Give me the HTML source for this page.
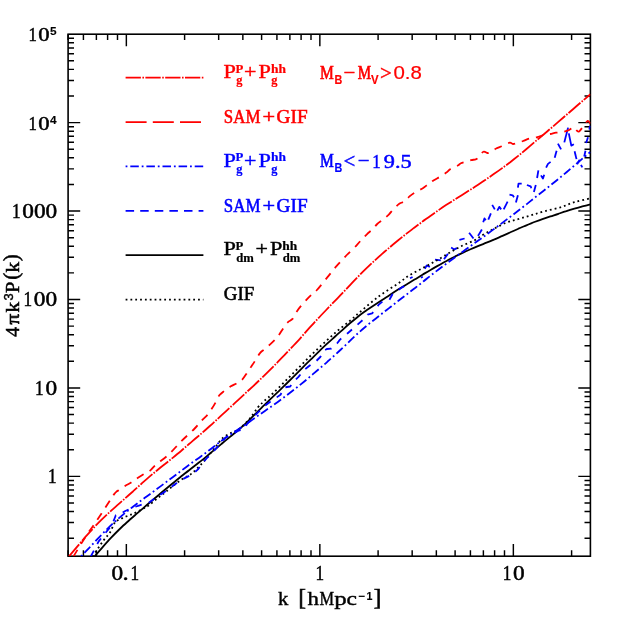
<!DOCTYPE html>
<html><head><meta charset="utf-8"><title>Power spectrum</title>
<style>html,body{margin:0;padding:0;background:#fff}svg{display:block;will-change:transform;transform:translateZ(0)}</style></head>
<body><svg width="623" height="623" viewBox="0 0 623 623">
<rect width="623" height="623" fill="#fff"/>
<rect x="68.1" y="34.2" width="522.3" height="522.0" fill="none" stroke="#000" stroke-width="1.6"/>
<path d="M68.10,556.2 v-5.9 M68.10,34.2 v5.9 M83.42,556.2 v-5.9 M83.42,34.2 v5.9 M96.38,556.2 v-5.9 M96.38,34.2 v5.9 M107.60,556.2 v-5.9 M107.60,34.2 v5.9 M117.50,556.2 v-5.9 M117.50,34.2 v5.9 M126.35,556.2 v-12.1 M126.35,34.2 v12.1 M184.60,556.2 v-5.9 M184.60,34.2 v5.9 M218.67,556.2 v-5.9 M218.67,34.2 v5.9 M242.85,556.2 v-5.9 M242.85,34.2 v5.9 M261.60,556.2 v-5.9 M261.60,34.2 v5.9 M276.92,556.2 v-5.9 M276.92,34.2 v5.9 M289.88,556.2 v-5.9 M289.88,34.2 v5.9 M301.10,556.2 v-5.9 M301.10,34.2 v5.9 M311.00,556.2 v-5.9 M311.00,34.2 v5.9 M319.85,556.2 v-12.1 M319.85,34.2 v12.1 M378.10,556.2 v-5.9 M378.10,34.2 v5.9 M412.17,556.2 v-5.9 M412.17,34.2 v5.9 M436.35,556.2 v-5.9 M436.35,34.2 v5.9 M455.10,556.2 v-5.9 M455.10,34.2 v5.9 M470.42,556.2 v-5.9 M470.42,34.2 v5.9 M483.38,556.2 v-5.9 M483.38,34.2 v5.9 M494.60,556.2 v-5.9 M494.60,34.2 v5.9 M504.50,556.2 v-5.9 M504.50,34.2 v5.9 M513.35,556.2 v-12.1 M513.35,34.2 v12.1 M571.60,556.2 v-5.9 M571.60,34.2 v5.9 M68.1,538.16 h5.9 M590.4,538.16 h-5.9 M68.1,522.59 h5.9 M590.4,522.59 h-5.9 M68.1,511.54 h5.9 M590.4,511.54 h-5.9 M68.1,502.97 h5.9 M590.4,502.97 h-5.9 M68.1,495.97 h5.9 M590.4,495.97 h-5.9 M68.1,490.05 h5.9 M590.4,490.05 h-5.9 M68.1,484.92 h5.9 M590.4,484.92 h-5.9 M68.1,480.40 h5.9 M590.4,480.40 h-5.9 M68.1,476.35 h12.1 M590.4,476.35 h-12.1 M68.1,449.73 h5.9 M590.4,449.73 h-5.9 M68.1,434.16 h5.9 M590.4,434.16 h-5.9 M68.1,423.11 h5.9 M590.4,423.11 h-5.9 M68.1,414.54 h5.9 M590.4,414.54 h-5.9 M68.1,407.54 h5.9 M590.4,407.54 h-5.9 M68.1,401.62 h5.9 M590.4,401.62 h-5.9 M68.1,396.49 h5.9 M590.4,396.49 h-5.9 M68.1,391.97 h5.9 M590.4,391.97 h-5.9 M68.1,387.92 h12.1 M590.4,387.92 h-12.1 M68.1,361.30 h5.9 M590.4,361.30 h-5.9 M68.1,345.73 h5.9 M590.4,345.73 h-5.9 M68.1,334.68 h5.9 M590.4,334.68 h-5.9 M68.1,326.11 h5.9 M590.4,326.11 h-5.9 M68.1,319.11 h5.9 M590.4,319.11 h-5.9 M68.1,313.19 h5.9 M590.4,313.19 h-5.9 M68.1,308.06 h5.9 M590.4,308.06 h-5.9 M68.1,303.54 h5.9 M590.4,303.54 h-5.9 M68.1,299.49 h12.1 M590.4,299.49 h-12.1 M68.1,272.87 h5.9 M590.4,272.87 h-5.9 M68.1,257.30 h5.9 M590.4,257.30 h-5.9 M68.1,246.25 h5.9 M590.4,246.25 h-5.9 M68.1,237.68 h5.9 M590.4,237.68 h-5.9 M68.1,230.68 h5.9 M590.4,230.68 h-5.9 M68.1,224.76 h5.9 M590.4,224.76 h-5.9 M68.1,219.63 h5.9 M590.4,219.63 h-5.9 M68.1,215.11 h5.9 M590.4,215.11 h-5.9 M68.1,211.06 h12.1 M590.4,211.06 h-12.1 M68.1,184.44 h5.9 M590.4,184.44 h-5.9 M68.1,168.87 h5.9 M590.4,168.87 h-5.9 M68.1,157.82 h5.9 M590.4,157.82 h-5.9 M68.1,149.25 h5.9 M590.4,149.25 h-5.9 M68.1,142.25 h5.9 M590.4,142.25 h-5.9 M68.1,136.33 h5.9 M590.4,136.33 h-5.9 M68.1,131.20 h5.9 M590.4,131.20 h-5.9 M68.1,126.68 h5.9 M590.4,126.68 h-5.9 M68.1,122.63 h12.1 M590.4,122.63 h-12.1 M68.1,96.01 h5.9 M590.4,96.01 h-5.9 M68.1,80.44 h5.9 M590.4,80.44 h-5.9 M68.1,69.39 h5.9 M590.4,69.39 h-5.9 M68.1,60.82 h5.9 M590.4,60.82 h-5.9 M68.1,53.82 h5.9 M590.4,53.82 h-5.9 M68.1,47.90 h5.9 M590.4,47.90 h-5.9 M68.1,42.77 h5.9 M590.4,42.77 h-5.9 M68.1,38.25 h5.9 M590.4,38.25 h-5.9" stroke="#000" stroke-width="1.45" fill="none"/>
<text x="12.0" y="217.96" font-size="20.3" text-anchor="start" fill="#000" stroke="#000" stroke-width="0.5" style="font-family:'Liberation Serif',serif;font-weight:normal" textLength="8.6" lengthAdjust="spacingAndGlyphs">1</text><text x="22.3" y="217.96" font-size="20.3" text-anchor="start" fill="#000" stroke="#000" stroke-width="0.5" style="font-family:'Liberation Serif',serif;font-weight:normal" textLength="34.95" lengthAdjust="spacingAndGlyphs">000</text>
<text x="23.55" y="306.39" font-size="20.3" text-anchor="start" fill="#000" stroke="#000" stroke-width="0.5" style="font-family:'Liberation Serif',serif;font-weight:normal" textLength="8.6" lengthAdjust="spacingAndGlyphs">1</text><text x="33.85" y="306.39" font-size="20.3" text-anchor="start" fill="#000" stroke="#000" stroke-width="0.5" style="font-family:'Liberation Serif',serif;font-weight:normal" textLength="23.3" lengthAdjust="spacingAndGlyphs">00</text>
<text x="35.1" y="394.82" font-size="20.3" text-anchor="start" fill="#000" stroke="#000" stroke-width="0.5" style="font-family:'Liberation Serif',serif;font-weight:normal" textLength="8.6" lengthAdjust="spacingAndGlyphs">1</text><text x="45.4" y="394.82" font-size="20.3" text-anchor="start" fill="#000" stroke="#000" stroke-width="0.5" style="font-family:'Liberation Serif',serif;font-weight:normal" textLength="11.65" lengthAdjust="spacingAndGlyphs">0</text>
<text x="47.9" y="483.25" font-size="20.3" text-anchor="start" fill="#000" stroke="#000" stroke-width="0.5" style="font-family:'Liberation Serif',serif;font-weight:normal" textLength="8.6" lengthAdjust="spacingAndGlyphs">1</text>
<text x="28.5" y="41.1" font-size="19.7" text-anchor="start" fill="#000" stroke="#000" stroke-width="0.5" style="font-family:'Liberation Serif',serif;font-weight:normal" textLength="8.35" lengthAdjust="spacingAndGlyphs">1</text><text x="38.2" y="41.1" font-size="19.7" text-anchor="start" fill="#000" stroke="#000" stroke-width="0.5" style="font-family:'Liberation Serif',serif;font-weight:normal" textLength="11.31" lengthAdjust="spacingAndGlyphs">0</text>
<text x="50.0" y="35.400000000000006" font-size="10.8" text-anchor="start" fill="#000" stroke="#000" stroke-width="0.1" style="font-family:'Liberation Sans',sans-serif;font-weight:bold" textLength="6.6" lengthAdjust="spacingAndGlyphs">5</text>
<text x="28.5" y="129.53" font-size="19.7" text-anchor="start" fill="#000" stroke="#000" stroke-width="0.5" style="font-family:'Liberation Serif',serif;font-weight:normal" textLength="8.35" lengthAdjust="spacingAndGlyphs">1</text><text x="38.2" y="129.53" font-size="19.7" text-anchor="start" fill="#000" stroke="#000" stroke-width="0.5" style="font-family:'Liberation Serif',serif;font-weight:normal" textLength="11.31" lengthAdjust="spacingAndGlyphs">0</text>
<text x="50.0" y="123.83000000000001" font-size="10.8" text-anchor="start" fill="#000" stroke="#000" stroke-width="0.1" style="font-family:'Liberation Sans',sans-serif;font-weight:bold" textLength="6.6" lengthAdjust="spacingAndGlyphs">4</text>
<text x="111.5" y="579.9" font-size="20.3" text-anchor="start" fill="#000" stroke="#000" stroke-width="0.5" style="font-family:'Liberation Serif',serif;font-weight:normal" textLength="11.65" lengthAdjust="spacingAndGlyphs">0</text><text x="122.4" y="579.9" font-size="20.3" text-anchor="start" fill="#000" stroke="#000" stroke-width="0.5" style="font-family:'Liberation Serif',serif;font-weight:normal" textLength="6.2" lengthAdjust="spacingAndGlyphs">.</text><text x="130.6" y="579.9" font-size="20.3" text-anchor="start" fill="#000" stroke="#000" stroke-width="0.5" style="font-family:'Liberation Serif',serif;font-weight:normal" textLength="8.6" lengthAdjust="spacingAndGlyphs">1</text>
<text x="315.40000000000003" y="579.9" font-size="20.3" text-anchor="start" fill="#000" stroke="#000" stroke-width="0.5" style="font-family:'Liberation Serif',serif;font-weight:normal" textLength="8.6" lengthAdjust="spacingAndGlyphs">1</text>
<text x="502.8" y="579.9" font-size="20.3" text-anchor="start" fill="#000" stroke="#000" stroke-width="0.5" style="font-family:'Liberation Serif',serif;font-weight:normal" textLength="8.6" lengthAdjust="spacingAndGlyphs">1</text><text x="513.1" y="579.9" font-size="20.3" text-anchor="start" fill="#000" stroke="#000" stroke-width="0.5" style="font-family:'Liberation Serif',serif;font-weight:normal" textLength="11.65" lengthAdjust="spacingAndGlyphs">0</text>
<text x="278" y="604.9" font-size="19" text-anchor="start" fill="#000" stroke="#000" stroke-width="0.4" style="font-family:'Liberation Serif',serif;font-weight:normal" textLength="10.4" lengthAdjust="spacingAndGlyphs">k</text>
<text x="298.4" y="605.0" font-size="22.5" text-anchor="start" fill="#000" stroke="#000" stroke-width="0.7" style="font-family:'Liberation Serif',serif;font-weight:normal" textLength="7.4" lengthAdjust="spacingAndGlyphs">[</text>
<text x="307.4" y="604.9" font-size="19" text-anchor="start" fill="#000" stroke="#000" stroke-width="0.4" style="font-family:'Liberation Serif',serif;font-weight:normal" textLength="11.4" lengthAdjust="spacingAndGlyphs">h</text><text x="319.5" y="604.9" font-size="19" text-anchor="start" fill="#000" stroke="#000" stroke-width="0.4" style="font-family:'Liberation Serif',serif;font-weight:normal" textLength="14.6" lengthAdjust="spacingAndGlyphs">M</text><text x="334.2" y="604.9" font-size="19" text-anchor="start" fill="#000" stroke="#000" stroke-width="0.4" style="font-family:'Liberation Serif',serif;font-weight:normal" textLength="12.4" lengthAdjust="spacingAndGlyphs">p</text><text x="346.6" y="604.9" font-size="19" text-anchor="start" fill="#000" stroke="#000" stroke-width="0.4" style="font-family:'Liberation Serif',serif;font-weight:normal" textLength="10.4" lengthAdjust="spacingAndGlyphs">c</text>
<text x="358.4" y="599.6" font-size="11.5" text-anchor="start" fill="#000" stroke="#000" stroke-width="0.1" style="font-family:'Liberation Sans',sans-serif;font-weight:bold" textLength="6.8" lengthAdjust="spacingAndGlyphs">−</text>
<text x="366.6" y="599.8" font-size="10.6" text-anchor="start" fill="#000" stroke="#000" stroke-width="0.1" style="font-family:'Liberation Sans',sans-serif;font-weight:bold" textLength="6" lengthAdjust="spacingAndGlyphs">1</text>
<text x="373.8" y="605.0" font-size="22.5" text-anchor="start" fill="#000" stroke="#000" stroke-width="0.7" style="font-family:'Liberation Serif',serif;font-weight:normal" textLength="7.4" lengthAdjust="spacingAndGlyphs">]</text>
<g transform="translate(18.9,337) rotate(-90)"><text x="0" y="0" font-size="19" text-anchor="start" fill="#000" stroke="#000" stroke-width="0.5" style="font-family:'Liberation Serif',serif;font-weight:normal" textLength="10" lengthAdjust="spacingAndGlyphs">4</text><text x="12.4" y="0" font-size="19" text-anchor="start" fill="#000" stroke="#000" stroke-width="0.7" style="font-family:'Liberation Serif',serif;font-weight:normal" textLength="10.6" lengthAdjust="spacingAndGlyphs">π</text><text x="24.4" y="0" font-size="19" text-anchor="start" fill="#000" stroke="#000" stroke-width="0.5" style="font-family:'Liberation Serif',serif;font-weight:normal" textLength="10.6" lengthAdjust="spacingAndGlyphs">k</text><text x="36.4" y="-6.1" font-size="12.3" text-anchor="start" fill="#000" stroke="#000" stroke-width="0.45" style="font-family:'Liberation Sans',sans-serif;font-weight:normal" textLength="7.2" lengthAdjust="spacingAndGlyphs">3</text><text x="44.0" y="0" font-size="19.5" text-anchor="start" fill="#000" stroke="#000" stroke-width="0.5" style="font-family:'Liberation Serif',serif;font-weight:normal" textLength="11.4" lengthAdjust="spacingAndGlyphs">P</text><text x="57.4" y="-0.6" font-size="22" text-anchor="start" fill="#000" stroke="#000" stroke-width="0.6" style="font-family:'Liberation Serif',serif;font-weight:normal" textLength="6.6" lengthAdjust="spacingAndGlyphs">(</text><text x="64.6" y="0" font-size="19" text-anchor="start" fill="#000" stroke="#000" stroke-width="0.5" style="font-family:'Liberation Serif',serif;font-weight:normal" textLength="10.6" lengthAdjust="spacingAndGlyphs">k</text><text x="76.0" y="-0.6" font-size="22" text-anchor="start" fill="#000" stroke="#000" stroke-width="0.6" style="font-family:'Liberation Serif',serif;font-weight:normal" textLength="6.6" lengthAdjust="spacingAndGlyphs">)</text></g>
<path d="M125.6,77.7 H203.4" stroke="#ff0000" stroke-width="1.8" stroke-dasharray="15.3 1.5 1.6 1.4" fill="none"/>
<path d="M125.6,122.1 H203.4" stroke="#ff0000" stroke-width="1.8" stroke-dasharray="21 6.2" fill="none"/>
<path d="M125.6,166.4 H203.4" stroke="#0000ff" stroke-width="1.8" stroke-dasharray="1.8 2.9 8.5 2.9" fill="none"/>
<path d="M125.6,210.8 H203.4" stroke="#0000ff" stroke-width="1.8" stroke-dasharray="8.5 6.1" fill="none"/>
<path d="M125.6,255.2 H203.4" stroke="#000" stroke-width="1.8" fill="none"/>
<path d="M125.6,299.6 H203.4" stroke="#000" stroke-width="1.8" stroke-dasharray="1.8 3.03" fill="none"/>
<text x="223.4" y="78.3" font-size="19" text-anchor="start" fill="#ff0000" stroke="#ff0000" stroke-width="0.4" style="font-family:'Liberation Serif',serif;font-weight:normal" textLength="12.4" lengthAdjust="spacingAndGlyphs">P</text><text x="235.6" y="72.7" font-size="12.2" text-anchor="start" fill="#ff0000" stroke="#ff0000" stroke-width="0.2" style="font-family:'Liberation Serif',serif;font-weight:bold" textLength="7.8" lengthAdjust="spacingAndGlyphs">P</text><text x="236.3" y="84.0" font-size="12" text-anchor="start" fill="#ff0000" stroke="#ff0000" stroke-width="0.2" style="font-family:'Liberation Serif',serif;font-weight:bold" textLength="6.2" lengthAdjust="spacingAndGlyphs">g</text><text x="244.1" y="78.3" font-size="19" text-anchor="start" fill="#ff0000" stroke="#ff0000" stroke-width="0.4" style="font-family:'Liberation Serif',serif;font-weight:normal" textLength="12.4" lengthAdjust="spacingAndGlyphs">+</text><text x="258.5" y="78.3" font-size="19" text-anchor="start" fill="#ff0000" stroke="#ff0000" stroke-width="0.4" style="font-family:'Liberation Serif',serif;font-weight:normal" textLength="12.4" lengthAdjust="spacingAndGlyphs">P</text><text x="270.9" y="72.7" font-size="12" text-anchor="start" fill="#ff0000" stroke="#ff0000" stroke-width="0.2" style="font-family:'Liberation Serif',serif;font-weight:bold" textLength="15" lengthAdjust="spacingAndGlyphs">hh</text><text x="271.3" y="84.0" font-size="12" text-anchor="start" fill="#ff0000" stroke="#ff0000" stroke-width="0.2" style="font-family:'Liberation Serif',serif;font-weight:bold" textLength="6.2" lengthAdjust="spacingAndGlyphs">g</text>
<text x="223.8" y="122.9" font-size="19" text-anchor="start" fill="#ff0000" stroke="#ff0000" stroke-width="0.55" style="font-family:'Liberation Serif',serif;font-weight:normal" textLength="36.6" lengthAdjust="spacingAndGlyphs">SAM</text><text x="262.6" y="122.9" font-size="19" text-anchor="start" fill="#ff0000" stroke="#ff0000" stroke-width="0.5" style="font-family:'Liberation Serif',serif;font-weight:normal" textLength="12.6" lengthAdjust="spacingAndGlyphs">+</text><text x="276.6" y="122.9" font-size="19" text-anchor="start" fill="#ff0000" stroke="#ff0000" stroke-width="0.55" style="font-family:'Liberation Serif',serif;font-weight:normal" textLength="31" lengthAdjust="spacingAndGlyphs">GIF</text>
<text x="223.4" y="166.89999999999998" font-size="19" text-anchor="start" fill="#0000ff" stroke="#0000ff" stroke-width="0.4" style="font-family:'Liberation Serif',serif;font-weight:normal" textLength="12.4" lengthAdjust="spacingAndGlyphs">P</text><text x="235.6" y="161.29999999999998" font-size="12.2" text-anchor="start" fill="#0000ff" stroke="#0000ff" stroke-width="0.2" style="font-family:'Liberation Serif',serif;font-weight:bold" textLength="7.8" lengthAdjust="spacingAndGlyphs">P</text><text x="236.3" y="172.59999999999997" font-size="12" text-anchor="start" fill="#0000ff" stroke="#0000ff" stroke-width="0.2" style="font-family:'Liberation Serif',serif;font-weight:bold" textLength="6.2" lengthAdjust="spacingAndGlyphs">g</text><text x="244.1" y="166.89999999999998" font-size="19" text-anchor="start" fill="#0000ff" stroke="#0000ff" stroke-width="0.4" style="font-family:'Liberation Serif',serif;font-weight:normal" textLength="12.4" lengthAdjust="spacingAndGlyphs">+</text><text x="258.5" y="166.89999999999998" font-size="19" text-anchor="start" fill="#0000ff" stroke="#0000ff" stroke-width="0.4" style="font-family:'Liberation Serif',serif;font-weight:normal" textLength="12.4" lengthAdjust="spacingAndGlyphs">P</text><text x="270.9" y="161.29999999999998" font-size="12" text-anchor="start" fill="#0000ff" stroke="#0000ff" stroke-width="0.2" style="font-family:'Liberation Serif',serif;font-weight:bold" textLength="15" lengthAdjust="spacingAndGlyphs">hh</text><text x="271.3" y="172.59999999999997" font-size="12" text-anchor="start" fill="#0000ff" stroke="#0000ff" stroke-width="0.2" style="font-family:'Liberation Serif',serif;font-weight:bold" textLength="6.2" lengthAdjust="spacingAndGlyphs">g</text>
<text x="223.8" y="211.5" font-size="19" text-anchor="start" fill="#0000ff" stroke="#0000ff" stroke-width="0.55" style="font-family:'Liberation Serif',serif;font-weight:normal" textLength="36.6" lengthAdjust="spacingAndGlyphs">SAM</text><text x="262.6" y="211.5" font-size="19" text-anchor="start" fill="#0000ff" stroke="#0000ff" stroke-width="0.5" style="font-family:'Liberation Serif',serif;font-weight:normal" textLength="12.6" lengthAdjust="spacingAndGlyphs">+</text><text x="276.6" y="211.5" font-size="19" text-anchor="start" fill="#0000ff" stroke="#0000ff" stroke-width="0.55" style="font-family:'Liberation Serif',serif;font-weight:normal" textLength="31" lengthAdjust="spacingAndGlyphs">GIF</text>
<text x="223.4" y="255.3" font-size="19" text-anchor="start" fill="#000" stroke="#000" stroke-width="0.4" style="font-family:'Liberation Serif',serif;font-weight:normal" textLength="12.4" lengthAdjust="spacingAndGlyphs">P</text><text x="235.6" y="249.70000000000002" font-size="12.2" text-anchor="start" fill="#000" stroke="#000" stroke-width="0.2" style="font-family:'Liberation Serif',serif;font-weight:bold" textLength="7.8" lengthAdjust="spacingAndGlyphs">P</text><text x="236.3" y="261.90000000000003" font-size="12" text-anchor="start" fill="#000" stroke="#000" stroke-width="0.2" style="font-family:'Liberation Serif',serif;font-weight:bold" textLength="17.6" lengthAdjust="spacingAndGlyphs">dm</text><text x="255.5" y="255.3" font-size="19" text-anchor="start" fill="#000" stroke="#000" stroke-width="0.4" style="font-family:'Liberation Serif',serif;font-weight:normal" textLength="12.4" lengthAdjust="spacingAndGlyphs">+</text><text x="269.9" y="255.3" font-size="19" text-anchor="start" fill="#000" stroke="#000" stroke-width="0.4" style="font-family:'Liberation Serif',serif;font-weight:normal" textLength="12.4" lengthAdjust="spacingAndGlyphs">P</text><text x="282.29999999999995" y="249.70000000000002" font-size="12" text-anchor="start" fill="#000" stroke="#000" stroke-width="0.2" style="font-family:'Liberation Serif',serif;font-weight:bold" textLength="15" lengthAdjust="spacingAndGlyphs">hh</text><text x="282.7" y="261.90000000000003" font-size="12" text-anchor="start" fill="#000" stroke="#000" stroke-width="0.2" style="font-family:'Liberation Serif',serif;font-weight:bold" textLength="17.6" lengthAdjust="spacingAndGlyphs">dm</text>
<text x="223.8" y="299.8" font-size="19" text-anchor="start" fill="#000" stroke="#000" stroke-width="0.55" style="font-family:'Liberation Serif',serif;font-weight:normal" textLength="30.6" lengthAdjust="spacingAndGlyphs">GIF</text>
<text x="320" y="78.7" font-size="19.5" text-anchor="start" fill="#ff0000" stroke="#ff0000" stroke-width="0.7" style="font-family:'Liberation Serif',serif;font-weight:normal" textLength="13.8" lengthAdjust="spacingAndGlyphs">M</text><text x="334.6" y="83.9" font-size="12" text-anchor="start" fill="#ff0000" stroke="#ff0000" stroke-width="0.15" style="font-family:'Liberation Sans',sans-serif;font-weight:bold" textLength="7.8" lengthAdjust="spacingAndGlyphs">B</text>
<text x="343.5" y="78.7" font-size="19" text-anchor="start" fill="#ff0000" stroke="#ff0000" stroke-width="0.4" style="font-family:'Liberation Serif',serif;font-weight:normal" textLength="11.8" lengthAdjust="spacingAndGlyphs">−</text>
<text x="357.8" y="78.7" font-size="19.5" text-anchor="start" fill="#ff0000" stroke="#ff0000" stroke-width="0.7" style="font-family:'Liberation Serif',serif;font-weight:normal" textLength="13.4" lengthAdjust="spacingAndGlyphs">M</text>
<text x="371.0" y="84" font-size="12" text-anchor="start" fill="#ff0000" stroke="#ff0000" stroke-width="0.15" style="font-family:'Liberation Sans',sans-serif;font-weight:bold" textLength="7.6" lengthAdjust="spacingAndGlyphs">V</text>
<text x="380.0" y="80.0" font-size="22" text-anchor="start" fill="#ff0000" stroke="#ff0000" stroke-width="0.4" style="font-family:'Liberation Serif',serif;font-weight:normal" textLength="11.8" lengthAdjust="spacingAndGlyphs">&gt;</text>
<text x="393.4" y="78.8" font-size="18.4" text-anchor="start" fill="#ff0000" stroke="#ff0000" stroke-width="0.2" style="font-family:'Liberation Sans',sans-serif;font-weight:normal" textLength="28.4" lengthAdjust="spacingAndGlyphs">0.8</text>
<text x="320" y="167.1" font-size="19.5" text-anchor="start" fill="#0000ff" stroke="#0000ff" stroke-width="0.7" style="font-family:'Liberation Serif',serif;font-weight:normal" textLength="13.8" lengthAdjust="spacingAndGlyphs">M</text><text x="334.6" y="172.29999999999998" font-size="12" text-anchor="start" fill="#0000ff" stroke="#0000ff" stroke-width="0.15" style="font-family:'Liberation Sans',sans-serif;font-weight:bold" textLength="7.8" lengthAdjust="spacingAndGlyphs">B</text>
<text x="343.4" y="168.4" font-size="22" text-anchor="start" fill="#0000ff" stroke="#0000ff" stroke-width="0.4" style="font-family:'Liberation Serif',serif;font-weight:normal" textLength="11.8" lengthAdjust="spacingAndGlyphs">&lt;</text>
<text x="357.8" y="167.1" font-size="19" text-anchor="start" fill="#0000ff" stroke="#0000ff" stroke-width="0.4" style="font-family:'Liberation Serif',serif;font-weight:normal" textLength="11.8" lengthAdjust="spacingAndGlyphs">−</text>
<text x="372.2" y="167.5" font-size="19.3" text-anchor="start" fill="#0000ff" stroke="#0000ff" stroke-width="0.5" style="font-family:'Liberation Serif',serif;font-weight:normal" textLength="8.4" lengthAdjust="spacingAndGlyphs">1</text><text x="383.8" y="167.5" font-size="19.3" text-anchor="start" fill="#0000ff" stroke="#0000ff" stroke-width="0.5" style="font-family:'Liberation Serif',serif;font-weight:normal" textLength="27.8" lengthAdjust="spacingAndGlyphs">9.5</text>
<clipPath id="c"><rect x="68.1" y="34.2" width="522.3" height="522.0"/></clipPath><g clip-path="url(#c)">
<path d="M410.0,278.3 L412.6,277.0" stroke="#0000ff" stroke-width="1.8" fill="none" stroke-linejoin="round"/>
<path d="M420.9,277.7 L422.8,276.8" stroke="#0000ff" stroke-width="1.8" fill="none" stroke-linejoin="round"/>
<path d="M424.8,268.7 L426.7,265.5 L429.9,266.8" stroke="#0000ff" stroke-width="1.8" fill="none" stroke-linejoin="round"/>
<path d="M435.0,259.7 L440.8,260.3" stroke="#0000ff" stroke-width="1.8" fill="none" stroke-linejoin="round"/>
<path d="M444.0,259.1 L447.9,253.9" stroke="#0000ff" stroke-width="1.8" fill="none" stroke-linejoin="round"/>
<path d="M451.1,247.5 L454.3,249.4 L456.9,248.1" stroke="#0000ff" stroke-width="1.8" fill="none" stroke-linejoin="round"/>
<path d="M459.4,239.8 L464.6,238.5" stroke="#0000ff" stroke-width="1.8" fill="none" stroke-linejoin="round"/>
<path d="M469.1,232.7 L473.5,238.5" stroke="#0000ff" stroke-width="1.8" fill="none" stroke-linejoin="round"/>
<path d="M478.0,235.9 L481.9,229.5" stroke="#0000ff" stroke-width="1.8" fill="none" stroke-linejoin="round"/>
<path d="M483.2,222.3 L484.5,218.4 L485.8,220.3" stroke="#0000ff" stroke-width="1.8" fill="none" stroke-linejoin="round"/>
<path d="M488.3,219.7 L490.9,213.3" stroke="#0000ff" stroke-width="1.8" fill="none" stroke-linejoin="round"/>
<path d="M492.2,204.9 L494.8,209.4" stroke="#0000ff" stroke-width="1.8" fill="none" stroke-linejoin="round"/>
<path d="M497.3,210.7 L499.3,206.9 L501.2,209.4" stroke="#0000ff" stroke-width="1.8" fill="none" stroke-linejoin="round"/>
<path d="M503.7,209.4 L507.6,201.7" stroke="#0000ff" stroke-width="1.8" fill="none" stroke-linejoin="round"/>
<path d="M509.5,194.7 L512.7,195.3 L514.0,197.2" stroke="#0000ff" stroke-width="1.8" fill="none" stroke-linejoin="round"/>
<path d="M515.9,202.4 L517.9,195.3" stroke="#0000ff" stroke-width="1.8" fill="none" stroke-linejoin="round"/>
<path d="M517.9,187.6 L518.5,183.7 L521.7,183.7" stroke="#0000ff" stroke-width="1.8" fill="none" stroke-linejoin="round"/>
<path d="M526.9,185.0 L530.7,186.3 L531.3,188.2" stroke="#0000ff" stroke-width="1.8" fill="none" stroke-linejoin="round"/>
<path d="M533.9,192.1 L535.8,185.0" stroke="#0000ff" stroke-width="1.8" fill="none" stroke-linejoin="round"/>
<path d="M537.1,178.0 L538.4,170.3" stroke="#0000ff" stroke-width="1.8" fill="none" stroke-linejoin="round"/>
<path d="M541.0,175.4 L542.9,178.6 L544.2,174.8" stroke="#0000ff" stroke-width="1.8" fill="none" stroke-linejoin="round"/>
<path d="M546.1,167.7 L548.0,163.9 L550.6,161.9" stroke="#0000ff" stroke-width="1.8" fill="none" stroke-linejoin="round"/>
<path d="M554.7,157.8 L556.6,150.7" stroke="#0000ff" stroke-width="1.8" fill="none" stroke-linejoin="round"/>
<path d="M557.9,143.6 L561.1,149.4" stroke="#0000ff" stroke-width="1.8" fill="none" stroke-linejoin="round"/>
<path d="M564.3,142.4 L568.1,127.6" stroke="#0000ff" stroke-width="1.8" fill="none" stroke-linejoin="round"/>
<path d="M568.8,133.4 L571.3,145.6 L573.9,144.3" stroke="#0000ff" stroke-width="1.8" fill="none" stroke-linejoin="round"/>
<path d="M574.6,151.3 L576.5,159.1" stroke="#0000ff" stroke-width="1.8" fill="none" stroke-linejoin="round"/>
<path d="M577.1,164.2 L579.7,159.7" stroke="#0000ff" stroke-width="1.8" fill="none" stroke-linejoin="round"/>
<path d="M581.0,164.8 L582.3,167.4" stroke="#0000ff" stroke-width="1.8" fill="none" stroke-linejoin="round"/>
<path d="M584.2,156.5 L585.5,150.7" stroke="#0000ff" stroke-width="1.8" fill="none" stroke-linejoin="round"/>
<path d="M586.1,143.0 L588.0,137.2" stroke="#0000ff" stroke-width="1.8" fill="none" stroke-linejoin="round"/>
<path d="M589.3,129.5 L590.3,125.7" stroke="#0000ff" stroke-width="1.8" fill="none" stroke-linejoin="round"/>
<path d="M92.7,556.4 C94.5,553.7 100.7,544.3 103.6,540.3 C106.5,536.3 108.2,535.4 110.0,532.5 C111.8,529.6 113.2,524.9 114.5,522.9 C115.8,520.9 116.3,521.1 117.7,520.3 C119.1,519.4 120.9,518.6 122.8,517.8 C124.7,516.9 127.2,516.1 129.3,515.2 C131.5,514.3 133.2,513.8 135.7,512.6 C138.1,511.4 141.9,509.3 144.0,508.1 C146.1,506.9 146.7,506.9 148.5,505.6 C150.3,504.3 152.8,502.1 154.9,500.4 C157.0,498.7 159.2,497.0 161.3,495.3 C163.5,493.6 165.7,491.9 167.8,490.2 C170.0,488.5 171.8,486.8 174.2,485.0 C176.5,483.2 179.3,481.0 181.9,479.3 C184.5,477.6 187.5,476.6 190.0,474.8 C192.5,473.1 194.2,471.4 196.8,468.8 C199.4,466.2 202.7,462.8 205.7,459.2 C208.7,455.6 212.1,451.1 215.0,447.5 C217.9,443.9 220.2,440.2 223.1,437.7 C225.9,435.2 229.5,433.9 232.1,432.5 C234.7,431.1 235.6,431.6 238.5,429.3 C241.4,427.1 246.2,422.6 249.4,419.0 C252.6,415.4 255.3,410.5 257.8,407.5 C260.3,404.5 261.7,403.4 264.2,401.1 C266.7,398.8 269.2,396.9 272.8,393.5 C276.4,390.1 281.4,385.0 285.7,380.7 C290.0,376.4 294.2,372.2 298.5,367.9 C302.8,363.6 307.0,359.2 311.3,355.0 C315.6,350.8 319.9,346.8 324.2,342.8 C328.5,338.9 332.7,335.0 337.0,331.3 C341.3,327.6 346.3,323.9 350.0,320.8 C353.7,317.7 354.6,316.6 359.3,312.6 C364.1,308.6 372.1,301.4 378.5,296.6 C384.9,291.8 392.7,287.2 397.8,283.7 C402.9,280.2 405.1,278.0 409.3,275.4 C413.5,272.8 418.4,270.4 422.8,268.0 C427.2,265.6 431.4,263.4 435.7,261.0 C440.0,258.6 444.2,255.8 448.5,253.3 C452.8,250.8 457.0,248.3 461.3,246.2 C465.6,244.0 470.6,242.3 474.2,240.4 C477.8,238.5 479.9,236.6 483.0,234.8 C486.1,233.0 489.0,231.4 492.8,229.4 C496.6,227.4 501.4,224.6 505.7,222.9 C510.0,221.2 514.2,220.3 518.5,219.0 C522.8,217.7 527.0,216.5 531.3,215.2 C535.6,213.9 539.4,212.6 544.2,211.3 C549.0,210.0 555.0,209.0 560.0,207.5 C565.0,206.0 569.3,203.7 574.4,202.2 C579.5,200.7 587.7,199.0 590.4,198.3" stroke="#000" stroke-width="1.8" stroke-dasharray="1.8 3.03" fill="none" stroke-linejoin="round"/>
<path d="M94.7,556.4 C96.0,554.8 100.0,550.1 102.7,547.1 C105.4,544.0 108.0,541.0 110.7,538.2 C113.4,535.3 116.0,532.6 118.7,530.0 C121.4,527.4 124.0,524.9 126.7,522.5 C129.3,520.1 132.0,517.8 134.7,515.5 C137.3,513.2 140.0,510.9 142.7,508.6 C145.3,506.3 148.0,504.0 150.7,501.8 C153.3,499.5 156.0,497.2 158.7,495.0 C161.3,492.7 164.0,490.4 166.7,488.2 C169.3,486.0 172.0,483.8 174.7,481.7 C177.3,479.5 180.0,477.4 182.6,475.3 C185.3,473.2 188.0,471.1 190.6,469.0 C193.3,467.0 196.0,464.9 198.6,462.8 C201.3,460.7 204.0,458.6 206.6,456.4 C209.3,454.2 212.0,452.0 214.6,449.7 C217.3,447.5 220.0,445.2 222.6,443.0 C225.3,440.8 228.0,438.6 230.6,436.4 C233.3,434.2 235.9,432.1 238.6,429.8 C241.3,427.5 243.9,425.1 246.6,422.6 C249.3,420.0 251.9,417.4 254.6,414.7 C257.3,412.1 259.9,409.4 262.6,406.7 C265.3,404.1 267.9,401.5 270.6,398.9 C273.3,396.4 275.9,393.8 278.6,391.3 C281.3,388.7 283.9,386.1 286.6,383.5 C289.2,380.9 291.9,378.3 294.6,375.6 C297.2,373.0 299.9,370.3 302.6,367.6 C305.2,365.0 307.9,362.3 310.6,359.7 C313.2,357.0 315.9,354.4 318.6,351.8 C321.2,349.2 323.9,346.7 326.6,344.2 C329.2,341.7 331.9,339.4 334.6,337.0 C337.2,334.5 339.9,332.2 342.6,329.8 C345.2,327.4 347.9,325.0 350.5,322.8 C353.2,320.5 355.9,318.2 358.5,316.2 C361.2,314.1 363.9,312.2 366.5,310.3 C369.2,308.5 371.9,306.7 374.5,305.0 C377.2,303.2 379.9,301.4 382.5,299.7 C385.2,297.9 387.9,296.2 390.5,294.4 C393.2,292.7 395.9,291.0 398.5,289.3 C401.2,287.6 403.8,286.0 406.5,284.4 C409.2,282.8 411.8,281.2 414.5,279.6 C417.2,278.0 419.8,276.3 422.5,274.7 C425.2,273.1 427.8,271.5 430.5,270.0 C433.2,268.4 435.8,266.9 438.5,265.4 C441.2,263.9 443.8,262.4 446.5,261.0 C449.2,259.5 451.8,258.2 454.5,256.8 C457.1,255.5 459.8,254.2 462.5,252.9 C465.1,251.7 467.8,250.5 470.5,249.3 C473.1,248.1 475.8,247.0 478.5,245.9 C481.1,244.8 483.8,243.8 486.5,242.7 C489.1,241.6 491.8,240.5 494.5,239.4 C497.1,238.2 499.8,237.1 502.5,235.9 C505.1,234.7 507.8,233.5 510.4,232.3 C513.1,231.1 515.8,229.9 518.4,228.7 C521.1,227.6 523.8,226.4 526.4,225.3 C529.1,224.1 531.8,223.1 534.4,222.0 C537.1,221.0 539.8,220.0 542.4,219.1 C545.1,218.2 547.8,217.3 550.4,216.4 C553.1,215.5 555.8,214.7 558.4,213.8 C561.1,212.9 563.7,212.0 566.4,211.2 C569.1,210.3 571.7,209.5 574.4,208.7 C577.1,207.9 579.7,207.2 582.4,206.4 C585.1,205.7 589.1,204.7 590.4,204.3" stroke="#000" stroke-width="1.8" fill="none" stroke-linejoin="round"/>
<path d="M81.2,556.4 C82.5,555.0 86.5,550.7 89.2,547.9 C91.8,545.0 94.5,542.2 97.1,539.4 C99.8,536.6 102.4,533.8 105.1,531.1 C107.7,528.5 110.4,525.9 113.0,523.4 C115.7,521.0 118.3,518.7 121.0,516.4 C123.6,514.1 126.3,512.0 128.9,509.9 C131.6,507.8 134.2,505.7 136.9,503.7 C139.5,501.7 142.2,499.8 144.8,497.8 C147.5,495.9 150.2,493.9 152.8,492.0 C155.5,490.0 158.1,488.1 160.8,486.1 C163.4,484.1 166.1,482.1 168.7,480.2 C171.4,478.2 174.0,476.2 176.7,474.2 C179.3,472.2 182.0,470.2 184.6,468.2 C187.3,466.3 189.9,464.3 192.6,462.3 C195.2,460.4 197.9,458.6 200.5,456.7 C203.2,454.7 205.8,452.8 208.5,450.8 C211.2,448.8 213.8,446.6 216.5,444.6 C219.1,442.5 221.8,440.5 224.4,438.6 C227.1,436.7 229.7,435.1 232.4,433.3 C235.0,431.6 237.7,429.9 240.3,428.1 C243.0,426.4 245.6,424.5 248.3,422.6 C250.9,420.8 253.6,418.8 256.2,417.0 C258.9,415.1 261.5,413.3 264.2,411.4 C266.8,409.6 269.5,407.8 272.1,405.9 C274.8,404.0 277.5,402.1 280.1,400.2 C282.8,398.3 285.4,396.3 288.1,394.3 C290.7,392.3 293.4,390.2 296.0,388.1 C298.7,386.0 301.3,383.9 304.0,381.7 C306.6,379.5 309.3,377.3 311.9,375.1 C314.6,372.8 317.2,370.5 319.9,368.3 C322.5,366.0 325.2,363.7 327.8,361.3 C330.5,359.0 333.1,356.6 335.8,354.2 C338.5,351.8 341.1,349.3 343.8,346.8 C346.4,344.3 349.1,341.7 351.7,339.2 C354.4,336.7 357.0,334.1 359.7,331.8 C362.3,329.4 365.0,327.2 367.6,325.0 C370.3,322.8 372.9,320.8 375.6,318.7 C378.2,316.6 380.9,314.5 383.5,312.4 C386.2,310.4 388.8,308.3 391.5,306.2 C394.1,304.1 396.8,302.0 399.4,300.0 C402.1,297.9 404.8,295.9 407.4,293.9 C410.1,291.8 412.7,289.8 415.4,287.8 C418.0,285.7 420.7,283.6 423.3,281.5 C426.0,279.4 428.6,277.2 431.3,275.1 C433.9,273.0 436.6,271.0 439.2,269.0 C441.9,267.0 444.5,265.1 447.2,263.1 C449.8,261.1 452.5,259.2 455.1,257.3 C457.8,255.3 460.4,253.4 463.1,251.5 C465.8,249.5 468.4,247.6 471.1,245.7 C473.7,243.8 476.4,241.9 479.0,240.0 C481.7,238.1 484.3,236.2 487.0,234.2 C489.6,232.3 492.3,230.3 494.9,228.3 C497.6,226.4 500.2,224.4 502.9,222.4 C505.5,220.4 508.2,218.4 510.8,216.4 C513.5,214.4 516.1,212.4 518.8,210.3 C521.4,208.2 524.1,206.2 526.8,204.1 C529.4,202.0 532.1,199.8 534.7,197.7 C537.4,195.6 540.0,193.6 542.7,191.5 C545.3,189.4 548.0,187.3 550.6,185.2 C553.3,183.1 555.9,181.0 558.6,178.8 C561.2,176.6 563.9,174.4 566.5,172.2 C569.2,169.9 571.8,167.7 574.5,165.4 C577.1,163.1 579.8,160.9 582.4,158.6 C585.1,156.4 589.1,153.1 590.4,152.0" stroke="#0000ff" stroke-width="1.8" stroke-dasharray="1.8 2.9 8.5 2.9" fill="none" stroke-linejoin="round"/>
<path d="M90.8,556.4 L98.5,541.6 L110.0,527.4 L113.9,520.3 L115.8,515.2 L119.0,514.6 L124.8,511.3 L131.2,508.1 L138.9,505.6 L145.3,503.6 L148.5,503.0 L153.6,499.2 L159.4,495.3 L165.2,491.5 L170.3,487.6 L176.8,483.1 L182.5,479.3 L190.0,475.4 L194.2,472.6 L198.0,469.4 L201.9,463.6 L207.0,457.9 L210.0,455.3 L225.7,437.7 L238.5,430.6 L243.6,429.3 L246.9,424.2 L255.2,415.2 L264.2,406.2 L272.8,400.0 L280.5,394.8 L284.4,387.4 L290.2,386.5 L294.0,381.3 L298.5,376.9 L304.3,369.8 L310.1,365.3 L315.8,361.5 L320.3,357.0 L324.2,350.5 L326.8,349.0 L331.2,348.6 L337.0,343.5 L340.0,339.6 L347.7,333.2 L352.2,329.3 L363.1,319.7 L367.6,314.6 L372.1,313.3 L374.0,311.3 L378.5,304.9 L383.0,301.1 L389.4,299.8 L392.6,294.0 L396.5,291.5 L401.6,287.6 L408.7,283.7" stroke="#0000ff" stroke-width="1.8" stroke-dasharray="6.6 7.4" fill="none" stroke-linejoin="round"/>
<path d="M73.5,556.4 C75.5,553.1 82.4,541.6 85.7,536.5 C89.0,531.4 90.6,529.7 93.4,525.6 C96.2,521.5 99.5,516.5 102.4,512.1 C105.3,507.7 108.7,502.3 110.7,499.3 C112.7,496.3 113.2,495.4 114.2,494.1 C115.2,492.8 115.6,492.4 116.5,491.6 C117.4,490.9 118.2,490.6 119.7,489.6 C121.2,488.6 123.5,486.9 125.4,485.7 C127.3,484.5 129.2,483.8 131.2,482.5 C133.2,481.2 135.5,479.4 137.6,478.0 C139.7,476.6 142.0,475.3 144.0,474.1 C146.0,472.9 147.9,472.4 149.8,470.9 C151.8,469.4 152.6,467.6 155.7,464.9 C158.8,462.2 164.2,458.6 168.5,454.7 C172.8,450.8 177.0,445.5 181.3,441.2 C185.6,436.9 190.8,432.5 194.2,429.0 C197.6,425.5 199.7,422.7 201.9,420.3 C204.2,417.9 206.0,416.6 207.7,414.6 C209.4,412.6 210.8,410.2 212.2,408.1 C213.6,406.0 214.8,403.8 216.0,401.7 C217.2,399.6 217.9,397.1 219.3,395.3 C220.7,393.5 222.5,392.3 224.4,390.8 C226.3,389.3 228.7,387.6 230.8,386.3 C232.9,385.0 235.3,384.3 237.2,383.1 C239.1,381.9 240.7,381.1 242.4,379.3 C244.1,377.5 246.0,374.4 247.5,372.2 C249.0,370.0 250.0,368.3 251.3,366.4 C252.6,364.5 253.8,362.8 255.2,360.6 C256.6,358.4 258.4,355.0 260.0,353.1 C261.6,351.2 262.9,350.7 264.5,349.3 C266.1,347.9 267.8,346.4 269.6,344.8 C271.4,343.2 273.6,341.2 275.2,339.5 C276.8,337.8 277.7,336.6 279.1,334.7 C280.5,332.8 282.0,330.0 283.5,327.9 C285.0,325.8 286.5,323.6 288.0,322.1 C289.5,320.6 291.0,320.7 292.5,318.9 C294.0,317.1 295.5,313.4 297.0,311.2 C298.5,308.9 299.9,307.3 301.5,305.4 C303.1,303.5 305.0,301.3 306.6,299.6 C308.2,297.9 309.4,296.7 311.1,295.1 C312.8,293.5 314.2,292.9 316.9,290.0 C319.6,287.1 324.0,281.4 327.3,277.4 C330.6,273.4 333.4,269.6 336.7,265.9 C339.9,262.2 343.4,258.5 346.8,255.0 C350.2,251.5 354.5,247.6 357.0,244.9 C359.5,242.2 360.3,240.9 362.0,239.1 C363.7,237.3 365.3,235.8 367.1,234.1 C368.9,232.4 371.2,230.7 372.9,229.0 C374.6,227.3 375.5,225.6 377.2,224.0 C378.9,222.4 381.1,221.2 383.0,219.6 C384.9,218.0 386.9,216.5 388.8,214.6 C390.7,212.7 392.3,210.2 394.1,208.4 C395.9,206.6 397.9,204.8 399.6,203.6 C401.3,202.4 402.9,202.6 404.5,201.4 C406.1,200.2 407.8,197.9 409.5,196.4 C411.2,194.9 412.4,194.0 414.6,192.7 C416.8,191.4 420.2,189.8 422.5,188.4 C424.8,187.0 426.5,185.4 428.3,184.1 C430.1,182.8 431.5,181.7 433.4,180.5 C435.3,179.3 437.7,178.1 439.9,176.8 C442.1,175.5 444.6,173.8 446.4,172.5 C448.2,171.2 448.6,170.1 450.5,168.9 C452.4,167.7 456.1,166.4 457.8,165.5 C459.5,164.6 459.6,163.9 460.9,163.3 C462.2,162.7 463.7,162.5 465.4,162.0 C467.1,161.5 469.5,160.5 471.2,160.1 C472.9,159.7 474.5,159.8 475.7,159.4 C476.9,159.0 476.9,158.8 478.2,157.5 C479.5,156.2 481.9,152.4 483.4,151.7 C484.9,150.9 486.0,152.9 487.2,153.0 C488.4,153.1 488.9,152.8 490.4,152.1 C491.9,151.3 494.2,149.5 496.2,148.5 C498.2,147.5 500.4,146.9 502.6,145.9 C504.9,144.9 508.0,143.0 509.7,142.7 C511.4,142.4 511.7,143.9 512.9,144.0 C514.1,144.1 515.1,143.6 516.8,143.1 C518.5,142.6 521.1,141.8 523.2,141.0 C525.3,140.2 527.2,139.1 529.6,138.5 C532.0,137.9 535.1,137.7 537.3,137.2 C539.4,136.7 540.4,135.8 542.5,135.3 C544.6,134.8 548.0,134.4 550.2,134.0 C552.4,133.6 553.9,133.0 555.9,132.7 C557.9,132.4 560.2,132.5 562.4,132.1 C564.5,131.7 566.9,131.0 568.8,130.2 C570.7,129.3 572.6,127.0 573.9,127.0 C575.2,127.0 575.6,129.4 576.5,130.2 C577.4,130.9 578.0,132.2 579.1,131.5 C580.2,130.8 581.9,128.1 583.3,126.3 C584.7,124.5 586.5,121.4 587.7,120.9 C588.9,120.5 590.0,123.1 590.4,123.6" stroke="#ff0000" stroke-width="1.8" stroke-dasharray="7.8 6.8" fill="none" stroke-linejoin="round"/>
<path d="M69.0,556.4 C70.3,554.8 74.3,550.0 77.0,546.8 C79.7,543.7 82.4,540.5 85.0,537.4 C87.7,534.4 90.4,531.3 93.1,528.5 C95.7,525.6 98.4,522.9 101.1,520.2 C103.8,517.6 106.4,515.1 109.1,512.6 C111.8,510.1 114.5,507.8 117.1,505.4 C119.8,503.0 122.5,500.7 125.2,498.3 C127.8,495.9 130.5,493.5 133.2,491.2 C135.8,488.8 138.5,486.3 141.2,484.0 C143.9,481.6 146.5,479.2 149.2,476.9 C151.9,474.6 154.6,472.4 157.2,470.2 C159.9,468.0 162.6,465.9 165.3,463.8 C167.9,461.6 170.6,459.5 173.3,457.4 C176.0,455.2 178.6,452.9 181.3,450.7 C184.0,448.4 186.6,446.1 189.3,443.8 C192.0,441.5 194.7,439.3 197.3,437.0 C200.0,434.7 202.7,432.4 205.4,430.0 C208.0,427.7 210.7,425.2 213.4,422.8 C216.1,420.4 218.7,417.9 221.4,415.4 C224.1,413.0 226.8,410.5 229.4,408.0 C232.1,405.5 234.8,403.1 237.5,400.6 C240.1,398.2 242.8,395.7 245.5,393.2 C248.1,390.7 250.8,388.3 253.5,385.8 C256.2,383.3 258.8,380.8 261.5,378.2 C264.2,375.7 266.9,373.0 269.5,370.4 C272.2,367.7 274.9,364.9 277.6,362.2 C280.2,359.4 282.9,356.7 285.6,353.9 C288.3,351.1 290.9,348.3 293.6,345.5 C296.3,342.6 299.0,339.7 301.6,336.7 C304.3,333.7 307.0,330.7 309.6,327.7 C312.3,324.8 315.0,321.8 317.7,318.9 C320.3,316.1 323.0,313.3 325.7,310.5 C328.4,307.7 331.0,304.9 333.7,302.2 C336.4,299.4 339.1,296.6 341.7,293.8 C344.4,291.0 347.1,288.2 349.8,285.3 C352.4,282.5 355.1,279.7 357.8,276.9 C360.4,274.2 363.1,271.5 365.8,268.9 C368.5,266.3 371.1,263.8 373.8,261.3 C376.5,258.9 379.2,256.5 381.8,254.1 C384.5,251.8 387.2,249.4 389.9,247.2 C392.5,244.9 395.2,242.7 397.9,240.5 C400.6,238.3 403.2,236.2 405.9,234.1 C408.6,232.0 411.3,230.0 413.9,227.9 C416.6,225.9 419.3,224.0 421.9,222.0 C424.6,220.1 427.3,218.1 430.0,216.2 C432.6,214.3 435.3,212.4 438.0,210.6 C440.7,208.7 443.3,206.9 446.0,205.1 C448.7,203.4 451.4,201.7 454.0,200.0 C456.7,198.3 459.4,196.6 462.1,194.9 C464.7,193.3 467.4,191.6 470.1,189.9 C472.8,188.2 475.4,186.5 478.1,184.7 C480.8,182.9 483.4,181.1 486.1,179.3 C488.8,177.5 491.5,175.7 494.1,173.8 C496.8,172.0 499.5,170.1 502.2,168.1 C504.8,166.2 507.5,164.2 510.2,162.2 C512.9,160.1 515.5,158.0 518.2,155.9 C520.9,153.7 523.6,151.4 526.2,149.2 C528.9,147.0 531.6,144.7 534.2,142.4 C536.9,140.1 539.6,137.9 542.3,135.6 C544.9,133.3 547.6,131.1 550.3,128.8 C553.0,126.5 555.6,124.2 558.3,121.9 C561.0,119.6 563.7,117.3 566.3,115.0 C569.0,112.7 571.7,110.3 574.4,108.0 C577.0,105.7 579.7,103.4 582.4,101.1 C585.1,98.8 589.1,95.3 590.4,94.2" stroke="#ff0000" stroke-width="1.8" stroke-dasharray="15.8 1.5 1.6 1.4" fill="none" stroke-linejoin="round"/>
</g>
</svg></body></html>
